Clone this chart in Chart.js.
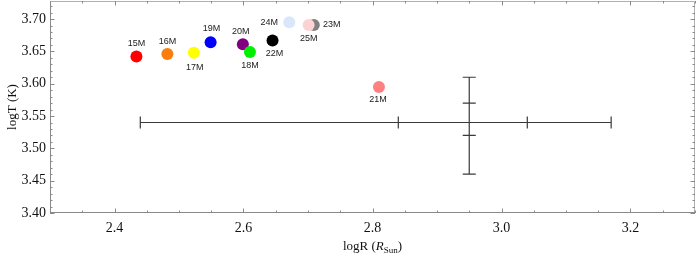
<!DOCTYPE html>
<html>
<head>
<meta charset="utf-8">
<script src="https://cdn.jsdelivr.net/npm/chart.js@4"></script>
<style>
  html, body { margin: 0; padding: 0; background: #fff; }
  #wrap { width: 697px; height: 258px; position: relative; }
</style>
</head>
<body>
<div id="wrap"><canvas id="hrChart"></canvas></div>
<script>
// ---- data (in drawing order) ----
const starNames  = ['15M', '16M', '17M', '19M', '20M', '18M', '22M', '24M', '23M', '25M', '21M'];
const starLogR   = [2.434, 2.482, 2.523, 2.549, 2.599, 2.610, 2.645, 2.671, 2.709, 2.701, 2.810];
const starLogT   = [3.642, 3.646, 3.648, 3.664, 3.661, 3.649, 3.667, 3.695, 3.691, 3.691, 3.595];
const starColors = ['#ff0000', '#fb7d0a', '#ffff00', '#0000ff', '#800080', '#00f000', '#000000',
                    '#d8e8fa', '#808080', '#fcd2d2', '#ff8080'];

// error bar: centre, inner and outer ranges
const errCenter  = [2.95, 3.54];
const errXOuter  = [2.44, 3.17];
const errXInner  = [2.84, 3.04];
const errYOuter  = [3.46, 3.61];
const errYInner  = [3.52, 3.57];

const xTicks = [2.4, 2.6, 2.8, 3.0, 3.2];
const yTicks = [3.40, 3.45, 3.50, 3.55, 3.60, 3.65, 3.70];

// label placement for each star: [dx, dy] in px
const labelOffset = [[0, -13], [0, -12], [1, 15], [1, -14], [-2, -13], [0, 13], [2, 13],
                     [-20, 0], [18, 0], [0, 14], [-1, 13]];

const SERIF = '"Liberation Serif", "DejaVu Serif", serif';

// frame, inner ticks, error bars, labels and axis titles
const decorPlugin = {
    id: 'decor',
    afterDatasetsDraw(chart) {
        const ctx = chart.ctx;
        const xs = chart.scales.x, ys = chart.scales.y;
        const a = chart.chartArea;

        ctx.save();
        // error bars
        ctx.strokeStyle = '#3a3a3a';
        ctx.lineWidth = 1.2;
        const cy = ys.getPixelForValue(errCenter[1]);
        const cx = xs.getPixelForValue(errCenter[0]);
        ctx.beginPath();
        ctx.moveTo(xs.getPixelForValue(errXOuter[0]), cy);
        ctx.lineTo(xs.getPixelForValue(errXOuter[1]), cy);
        [...errXOuter, ...errXInner].forEach(v => {
            const px = xs.getPixelForValue(v);
            ctx.moveTo(px, cy - 6);
            ctx.lineTo(px, cy + 6);
        });
        ctx.moveTo(cx, ys.getPixelForValue(errYOuter[0]));
        ctx.lineTo(cx, ys.getPixelForValue(errYOuter[1]));
        [...errYOuter, ...errYInner].forEach(v => {
            const py = ys.getPixelForValue(v);
            ctx.moveTo(cx - 6.5, py);
            ctx.lineTo(cx + 6.5, py);
        });
        ctx.stroke();

        // star labels
        ctx.fillStyle = '#222';
        ctx.font = '9px "Liberation Sans", Arial, sans-serif';
        ctx.textAlign = 'center';
        ctx.textBaseline = 'middle';
        starNames.forEach((n, i) => {
            const px = xs.getPixelForValue(starLogR[i]) + labelOffset[i][0];
            const py = ys.getPixelForValue(starLogT[i]) + labelOffset[i][1];
            ctx.fillText(n, px, py);
        });

        // frame
        ctx.lineWidth = 1;
        ctx.strokeStyle = '#b0b0b0';
        ctx.beginPath();
        ctx.moveTo(a.left, a.top + 0.5);
        ctx.lineTo(a.right - 0.5, a.top + 0.5);
        ctx.lineTo(a.right - 0.5, a.bottom);
        ctx.stroke();
        ctx.strokeStyle = '#8a8a8a';
        ctx.beginPath();
        ctx.moveTo(a.left + 0.5, a.top);
        ctx.lineTo(a.left + 0.5, a.bottom - 0.5);
        ctx.lineTo(a.right, a.bottom - 0.5);
        ctx.stroke();

        // inner ticks
        ctx.strokeStyle = '#8a8a8a';
        ctx.beginPath();
        for (let k = 0; k <= 20; k++) {
            const v = 2.3 + k * 0.05;
            const px = Math.round(xs.getPixelForValue(v)) + 0.5;
            const major = xTicks.some(t => Math.abs(t - v) < 1e-6);
            const len = major ? 4.5 : 2.5;
            ctx.moveTo(px, a.bottom); ctx.lineTo(px, a.bottom - len);
            ctx.moveTo(px, a.top); ctx.lineTo(px, a.top + len);
        }
        for (let k = 0; k <= 32; k++) {
            const v = 3.40 + k * 0.01;
            const py = Math.round(ys.getPixelForValue(v)) + 0.5;
            const major = yTicks.some(t => Math.abs(t - v) < 1e-6);
            const len = major ? 4.5 : 2.5;
            ctx.moveTo(a.left, py); ctx.lineTo(a.left + len, py);
            ctx.moveTo(a.right, py); ctx.lineTo(a.right - len, py);
        }
        ctx.stroke();

        // axis titles
        ctx.fillStyle = '#111';
        ctx.textBaseline = 'alphabetic';
        ctx.textAlign = 'left';
        const parts = [
            ['logR (', '13px ' + SERIF, 0],
            ['R', 'italic 13px ' + SERIF, 0],
            ['Sun', '9px ' + SERIF, 3],
            [')', '13px ' + SERIF, 0]
        ];
        let total = 0;
        parts.forEach(p => { ctx.font = p[1]; total += ctx.measureText(p[0]).width; });
        let tx = (a.left + a.right) / 2 - total / 2;
        parts.forEach(p => {
            ctx.font = p[1];
            ctx.fillText(p[0], tx, 250 + p[2]);
            tx += ctx.measureText(p[0]).width;
        });

        ctx.translate(16, (a.top + a.bottom) / 2);
        ctx.rotate(-Math.PI / 2);
        ctx.textAlign = 'center';
        ctx.font = '13px ' + SERIF;
        ctx.fillText('logT (K)', 0, 0);
        ctx.restore();
    }
};

new Chart(document.getElementById('hrChart'), {
    type: 'scatter',
    data: {
        datasets: [{
            data: starLogR.map((r, i) => ({ x: r, y: starLogT[i] })),
            pointBackgroundColor: starColors,
            pointBorderWidth: 0,
            pointRadius: 6,
            pointHoverRadius: 6
        }]
    },
    options: {
        responsive: true,
        maintainAspectRatio: false,
        animation: false,
        layout: { autoPadding: false, padding: { top: 1, right: 2, left: 0, bottom: 0 } },
        plugins: { legend: { display: false }, tooltip: { enabled: false } },
        scales: {
            x: {
                type: 'linear',
                min: 2.3, max: 3.3,
                grid: { display: false, drawTicks: false },
                border: { display: false },
                afterBuildTicks: s => { s.ticks = xTicks.map(v => ({ value: v })); },
                afterFit: s => { s.height = 45; s.paddingLeft = 0; s.paddingRight = 0; },
                ticks: {
                    padding: 7,
                    color: '#111',
                    font: { family: SERIF, size: 14 },
                    maxRotation: 0,
                    callback: v => v.toFixed(1)
                }
            },
            y: {
                type: 'linear',
                min: 3.40, max: 3.728,
                grid: { display: false, drawTicks: false },
                border: { display: false },
                afterBuildTicks: s => { s.ticks = yTicks.map(v => ({ value: v })); },
                afterFit: s => { s.width = 50; s.paddingTop = 0; s.paddingBottom = 0; },
                ticks: {
                    padding: 4,
                    color: '#111',
                    font: { family: SERIF, size: 14 },
                    callback: v => v.toFixed(2)
                }
            }
        }
    },
    plugins: [decorPlugin]
});
</script>
</body>
</html>
